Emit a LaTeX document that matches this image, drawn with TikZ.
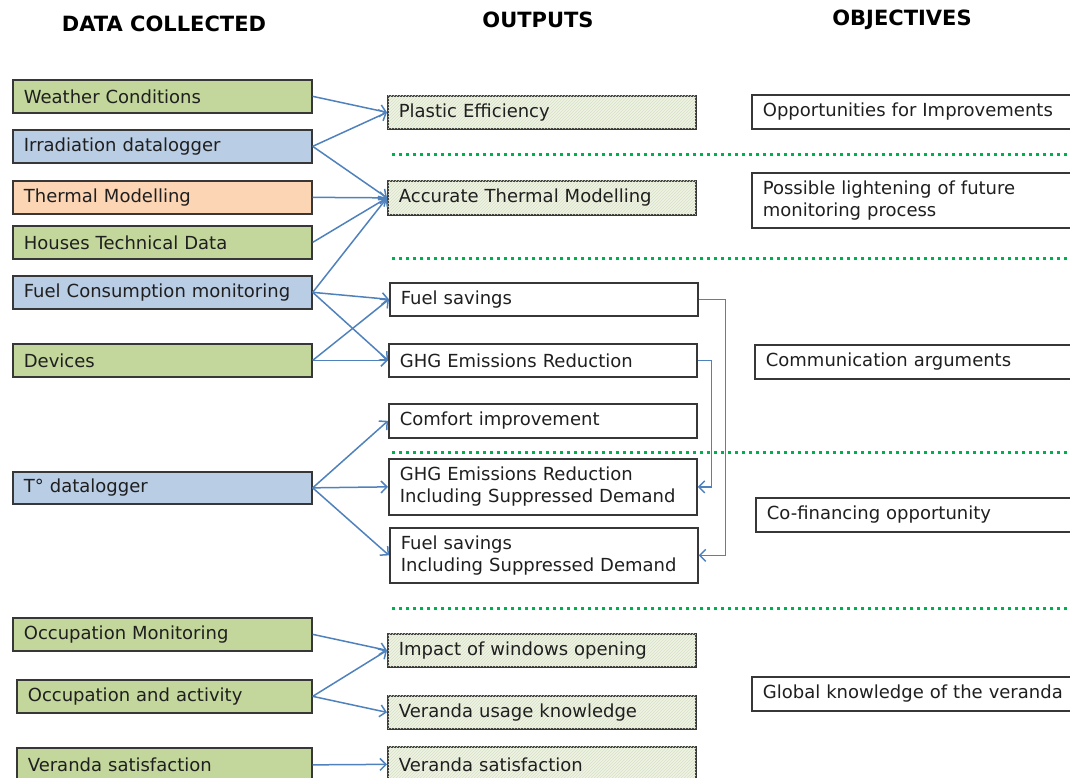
\documentclass[tikz,border=0pt]{standalone}
\usepackage{fontspec}
\setmainfont{DejaVu Sans}
\usetikzlibrary{arrows.meta,patterns}

\definecolor{dgreen}{RGB}{195,214,155}
\definecolor{dblue}{RGB}{185,205,229}
\definecolor{dorange}{RGB}{252,213,181}
\definecolor{hatchbg}{RGB}{238,243,228}
\definecolor{hatchline}{RGB}{215,224,198}
\definecolor{boxline}{RGB}{55,55,55}
\definecolor{linkblue}{RGB}{79,129,189}
\definecolor{sepgreen}{RGB}{0,176,80}

\tikzset{
  box/.style={draw=boxline, line width=1.7pt, anchor=north west, inner xsep=11pt,
    inner ysep=0pt, minimum height=33pt, align=left,
    font=\fontsize{18}{22}\selectfont, text=black!88},
  databox/.style={box, text width=277pt},
  outbox/.style={box, text width=286pt, fill=white},
  hatchbox/.style={outbox, fill=hatchbg, postaction={pattern=north east lines, pattern color=hatchline}},
  objbox/.style={box, text width=318pt, fill=white},
  link/.style={linkblue, line width=1.5pt, -{Straight Barb[length=6pt,width=12pt,line width=1.5pt]}},
  sepline/.style={sepgreen, line width=3pt, dash pattern=on 3pt off 4pt},
  header/.style={font=\fontsize{21}{24}\selectfont\bfseries}
}

\begin{document}
\begin{tikzpicture}[x=1pt,y=-1pt]
\useasboundingbox (0,0) rectangle (1070,778);

%% headers
\node[header] (hdata) at (164,24) {DATA COLLECTED};
\node[header] (hout) at (538,20) {OUTPUTS};
\node[header] (hobj) at (902,20) {OBJECTIVES};

%% data collected
\node[databox, fill=dgreen] (weather) at (12,79) {Weather Conditions};
\node[databox, fill=dblue] (irrad) at (12,129) {Irradiation datalogger};
\node[databox, fill=dorange] (thermal) at (12,180) {Thermal Modelling};
\node[databox, fill=dgreen] (houses) at (12,225) {Houses Technical Data};
\node[databox, fill=dblue] (fuelcons) at (12,275) {Fuel Consumption monitoring};
\node[databox, fill=dgreen] (devices) at (12,343) {Devices};
\node[databox, fill=dblue, minimum height=32pt] (tdata) at (12,471) {T° datalogger};
\node[databox, fill=dgreen] (occmon) at (12,617) {Occupation Monitoring};
\node[databox, fill=dgreen, text width=273pt] (occact) at (16,679) {Occupation and activity};
\node[databox, fill=dgreen, text width=273pt, minimum height=34pt] (vsat) at (16,747) {Veranda satisfaction};

%% outputs
\node[hatchbox] (plastic) at (387,95) {Plastic Efficiency};
\node[hatchbox, minimum height=34pt] (accurate) at (387,180) {Accurate Thermal Modelling};
\node[outbox] (fuel) at (389,282) {Fuel savings};
\node[outbox] (ghg) at (388,343) {GHG Emissions Reduction};
\node[outbox, minimum height=34pt] (comfort) at (388,403) {Comfort improvement};
\node[outbox, minimum height=56pt] (ghgsd) at (388,458) {GHG Emissions Reduction\\Including Suppressed Demand};
\node[outbox, minimum height=55pt] (fuelsd) at (389,527) {Fuel savings\\Including Suppressed Demand};
\node[hatchbox] (windows) at (387,633) {Impact of windows opening};
\node[hatchbox] (usage) at (387,695) {Veranda usage knowledge};
\node[hatchbox, minimum height=35pt] (vsatout) at (387,746) {Veranda satisfaction};

%% objectives
\node[objbox, minimum height=34pt] (opport) at (751,94) {Opportunities for Improvements};
\node[objbox, minimum height=55pt] (lighten) at (751,172) {Possible lightening of future\\monitoring process};
\node[objbox, minimum height=34pt] (comm) at (754,344) {Communication arguments};
\node[objbox, minimum height=34pt] (cofin) at (755,497) {Co-financing opportunity};
\node[objbox, minimum height=34pt] (global) at (751,676) {Global knowledge of the veranda};

%% separators
\draw[sepline] (392,155) -- (1070,155);
\draw[sepline] (392,258) -- (1070,258);
\draw[sepline] (392,452) -- (1070,452);
\draw[sepline] (392,608) -- (1070,608);

%% links
\foreach \a/\b in {weather/plastic, irrad/plastic, irrad/accurate, thermal/accurate,
  houses/accurate, fuelcons/accurate, fuelcons/fuel, fuelcons/ghg, devices/fuel,
  devices/ghg, tdata/comfort, tdata/ghgsd, tdata/fuelsd, occmon/windows,
  occact/windows, occact/usage, vsat/vsatout}
  \draw[link] (\a.east) -- (\b.west);

\draw[link] (fuel.east) -- ++(27,0) |- (fuelsd.east);
\draw[link] (ghg.east) -- ++(14,0) |- (ghgsd.east);

\end{tikzpicture}
\end{document}
